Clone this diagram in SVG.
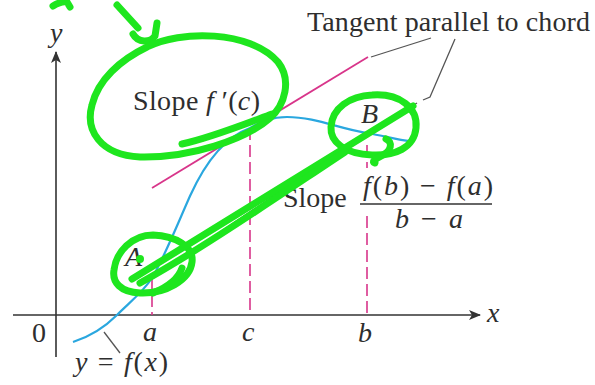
<svg xmlns="http://www.w3.org/2000/svg" width="595" height="385" viewBox="0 0 595 385">
<defs>
<style>
.t{font-family:"Liberation Serif","Times New Roman",serif;font-size:28px;fill:#2e2e2e}
.i{font-style:italic}
.ax{stroke:#333;stroke-width:1.6;fill:none}
.dash{stroke:#d8358a;stroke-width:1.6;stroke-dasharray:12,5;fill:none}
.g{stroke:#1ee61e;stroke-width:7;fill:none;stroke-linecap:round;stroke-linejoin:round}
.lead{stroke:#555;stroke-width:1.3;fill:none}
</style>
<marker id="arr" viewBox="0 0 12 10" refX="11" refY="5" markerWidth="12" markerHeight="10" markerUnits="userSpaceOnUse" orient="auto">
<path d="M0,0 L12,5 L0,10 L3,5 Z" fill="#333"/>
</marker>
</defs>
<rect width="595" height="385" fill="#fff"/>
<g id="axes">
<line class="ax" x1="13" y1="315" x2="480" y2="315" marker-end="url(#arr)"/>
<line class="ax" x1="56" y1="357" x2="56" y2="52" marker-end="url(#arr)"/>
</g>
<g id="guides">
<line class="dash" x1="152" y1="278" x2="152" y2="315"/>
<line class="dash" x1="250" y1="128" x2="250" y2="315"/>
<line class="dash" x1="367" y1="145" x2="367" y2="168"/>
<line class="dash" x1="367" y1="216" x2="367" y2="315"/>
</g>
<g id="tangent">
<line x1="152" y1="188" x2="368" y2="57" stroke="#d8358a" stroke-width="1.8"/>
</g>
<g id="curve">
<path d="M73,342 C92,336 106,326 117,315 C130,302 143,292 152,278 C163,260 175,230 190,196 C205,163 225,137 250,128 C262,121 272,117 287,117 C315,117 340,129 367,133 C385,136 398,140 410,141" fill="none" stroke="#2aa7df" stroke-width="2.2"/>
</g>
<g id="chord">
<line x1="152" y1="278" x2="367" y2="133" stroke="#444" stroke-width="1.3"/>
</g>
<g id="leaders">
<line class="lead" x1="371" y1="57" x2="431" y2="38"/>
<polyline class="lead" points="455,39 430,97 423,100"/>
<line class="lead" x1="412" y1="106" x2="417" y2="103"/>
<line class="lead" x1="104" y1="332" x2="120" y2="353"/>
</g>
<g id="labels">
<text class="t" x="307" y="31" textLength="283" lengthAdjust="spacing">Tangent parallel to chord</text>
<text class="t" x="133" y="110" textLength="127" lengthAdjust="spacing">Slope <tspan class="i">f</tspan> ′(<tspan class="i">c</tspan>)</text>
<text class="t" x="283" y="207">Slope</text>
<text class="t i" x="363" y="195" textLength="130" lengthAdjust="spacing">f<tspan font-style="normal">(</tspan>b<tspan font-style="normal">) − </tspan>f<tspan font-style="normal">(</tspan>a<tspan font-style="normal">)</tspan></text>
<line x1="360" y1="204" x2="492" y2="204" stroke="#333" stroke-width="1.6"/>
<text class="t i" x="395" y="228" textLength="68" lengthAdjust="spacing">b<tspan font-style="normal"> − </tspan>a</text>
<text class="t i" x="125" y="266">A</text>
<text class="t i" x="361" y="123">B</text>
<text class="t" x="32" y="342">0</text>
<text class="t i" x="143" y="341">a</text>
<text class="t i" x="242" y="341">c</text>
<text class="t i" x="358" y="342">b</text>
<text class="t i" x="487" y="322">x</text>
<text class="t i" x="50" y="42">y</text>
<text class="t i" x="75" y="371" textLength="93" lengthAdjust="spacing">y<tspan font-style="normal"> = </tspan>f<tspan font-style="normal">(</tspan>x<tspan font-style="normal">)</tspan></text>
</g>
<g id="annotations">
<path class="g" d="M53,6 C58,3 63,1 67,2 L70,7"/>
<path class="g" d="M117,5 L138,28"/>
<path class="g" d="M133,34 C138,43 150,43 155,36 L157,23"/>
<path class="g" d="M147,47 C180,30 250,30 278,62 C292,80 285,105 270,118 C245,140 190,158 140,157 C100,155 85,130 92,105 C98,80 120,60 147,47"/>
<path class="g" stroke-width="11" d="M182,144 C210,138 240,126 272,114"/>
<path class="g" d="M372,95 C400,93 418,108 416,128 C414,148 395,156 372,155 C345,154 330,142 331,127 C332,108 350,96 372,95 Z"/>
<path class="g" d="M386,139 C393,142 392,151 381,156 C375,159 371,162 375,163"/>
<path class="g" d="M153,235 C175,236 194,246 192,262 C190,280 165,294 140,293 C120,292 112,282 114,270 C116,252 132,235 153,235 Z"/>
<path class="g" d="M153,293 C165,288 178,280 182,268"/>
<path class="g" stroke-width="9" d="M132,279 L413,106"/>
<path class="g" stroke-width="8" d="M140,283 C200,250 280,195 345,152"/>
<circle cx="140" cy="259" r="4" fill="#1ee61e"/>
</g>
</svg>
